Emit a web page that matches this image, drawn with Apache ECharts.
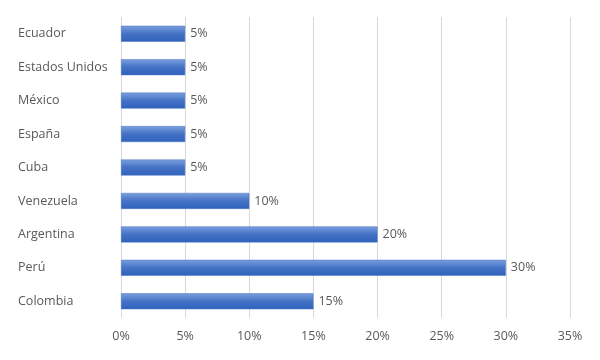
<!DOCTYPE html>
<html><head><meta charset="utf-8">
<script src="https://cdn.jsdelivr.net/npm/echarts@6/dist/echarts.min.js"></script>
<style>html,body{margin:0;padding:0;background:#fff}#c{width:600px;height:360px}</style>
</head><body><div id="c"></div>
<script>
const categories = ['Colombia','Perú','Argentina','Venezuela','Cuba','España','México','Estados Unidos','Ecuador'];
const values = [15,30,20,10,5,5,5,5,5];
const xTicks = {min:0,max:35,interval:5};

const chart = echarts.init(document.getElementById('c'));
const font = 'Open Sans, Noto Sans, sans-serif';
chart.setOption({
  animation:false,
  grid:{left:121,right:30,top:17,bottom:42,containLabel:false},
  xAxis:{type:'value',min:xTicks.min,max:xTicks.max,interval:xTicks.interval,
    axisLabel:{formatter:v=>v+'%',color:'#595959',fontFamily:font,fontSize:12.5,margin:12},
    axisLine:{show:false},axisTick:{show:false},
    splitLine:{lineStyle:{color:'#d9d9d9',width:1}}},
  yAxis:{type:'category',data:categories,
    axisLabel:{align:'left',margin:103,color:'#595959',fontFamily:font,fontSize:12.5},
    axisLine:{show:false},axisTick:{show:false},splitLine:{show:false}},
  series:[{type:'bar',data:values,barWidth:16,
    itemStyle:{color:new echarts.graphic.LinearGradient(0,0,0,1,[
      {offset:0,color:'#7b9fdf'},{offset:0.5,color:'#4472c4'},{offset:1,color:'#2f62bd'}]),
      borderColor:'#4a74c2',borderWidth:0.5},
    label:{show:true,position:'right',formatter:p=>p.value+'%',color:'#595959',fontFamily:font,fontSize:12.5,distance:5}
  }]
});
</script></body></html>
